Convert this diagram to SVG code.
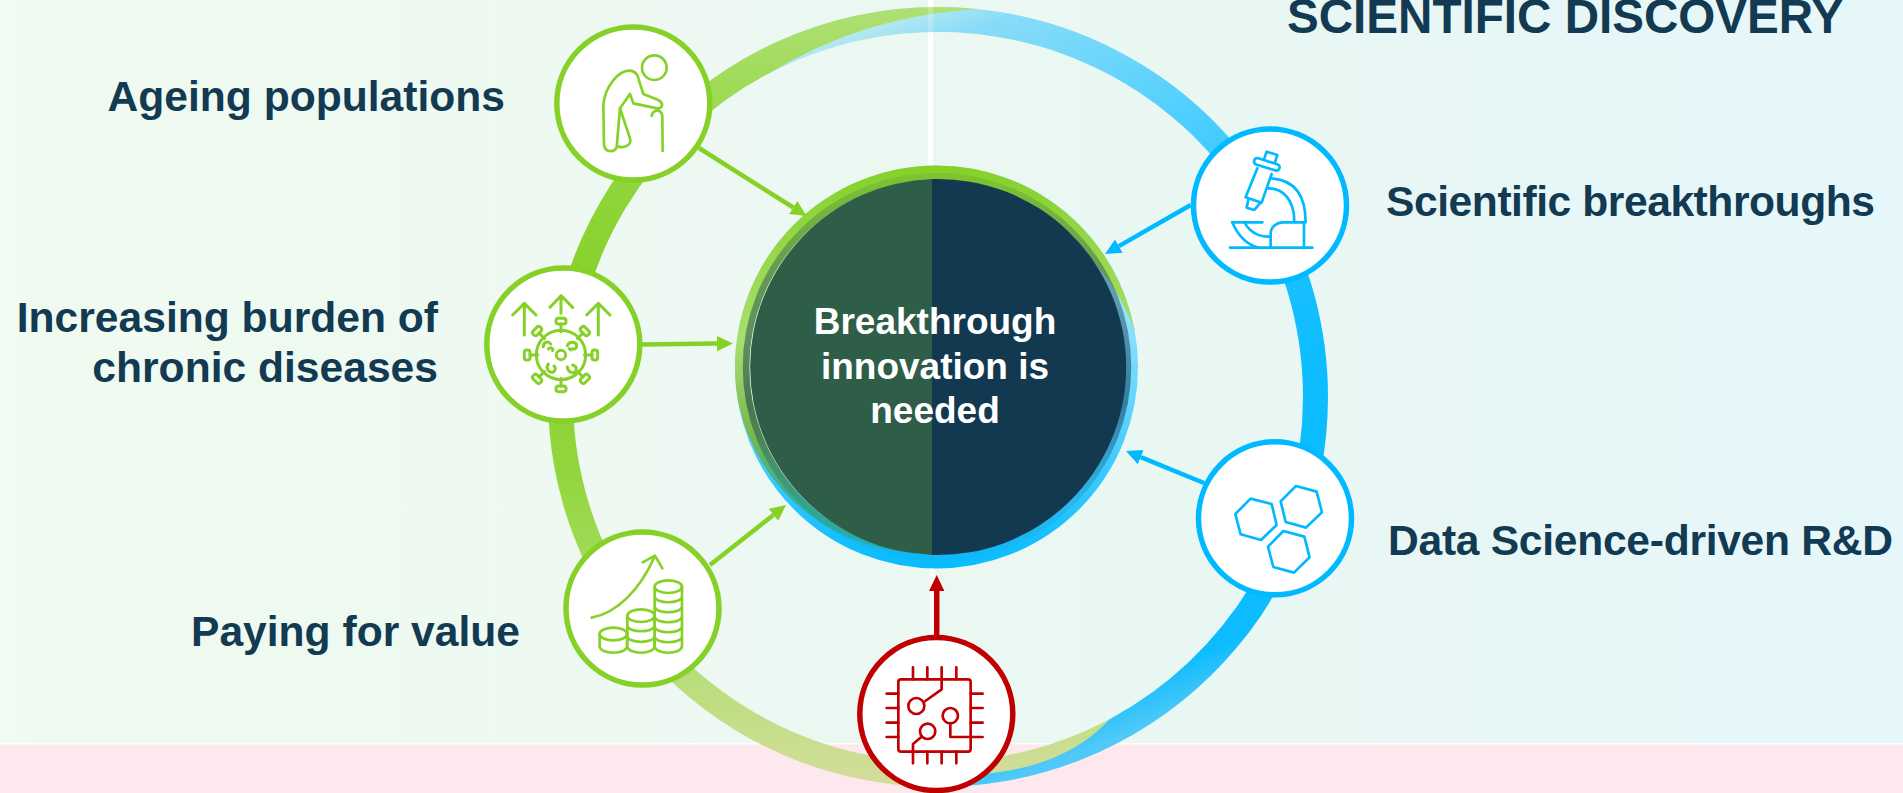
<svg xmlns="http://www.w3.org/2000/svg" width="1903" height="793" viewBox="0 0 1903 793">
<style>
.lbl{font-family:"Liberation Sans",Arial,sans-serif;font-weight:700;font-size:42.6px;fill:#123a52}
.ctr{font-family:"Liberation Sans",Arial,sans-serif;font-weight:700;font-size:37px;fill:#fff;text-anchor:middle}
.disc{fill:#fff;stroke-width:5.5}
.ico{fill:none;stroke-width:8;stroke-linecap:round;stroke-linejoin:round}
.g{stroke:#85d128}.b{stroke:#00b9ff}.r{stroke:#c00000}
.con{fill:none;stroke-width:4.5}
</style>
<defs>
<linearGradient id="bg" x1="0" x2="1" y1="0" y2="0"><stop offset="0" stop-color="#f3fcf2"/><stop offset="0.02" stop-color="#f0faf0"/><stop offset="0.5" stop-color="#ebf8f2"/><stop offset="0.7" stop-color="#e8f7f4"/><stop offset="1" stop-color="#e6f7fb"/></linearGradient>
<linearGradient id="bigB" gradientUnits="userSpaceOnUse" x1="800" y1="0" x2="1100" y2="790"><stop offset="0" stop-color="#c0eaee"/><stop offset="0.06" stop-color="#b5e8f0"/><stop offset="0.106" stop-color="#88dcf7"/><stop offset="0.29" stop-color="#4fcfff"/><stop offset="0.5" stop-color="#18c0ff"/><stop offset="0.65" stop-color="#0cbcff"/><stop offset="0.89" stop-color="#0cbcff"/><stop offset="0.95" stop-color="#50c9f8"/></linearGradient>
<linearGradient id="bigG" gradientUnits="userSpaceOnUse" x1="0" y1="7" x2="0" y2="790"><stop offset="0" stop-color="#aee074"/><stop offset="0.18" stop-color="#93d742"/><stop offset="0.37" stop-color="#85d128"/><stop offset="0.6" stop-color="#93d63f"/><stop offset="0.8" stop-color="#acdf6c"/><stop offset="1" stop-color="#d5dd9e"/></linearGradient>
<linearGradient id="smB" gradientUnits="userSpaceOnUse" x1="0" y1="300" x2="0" y2="568"><stop offset="0" stop-color="#9ce4fb"/><stop offset="0.5" stop-color="#4fd0ff"/><stop offset="1" stop-color="#08bbff"/></linearGradient>
<linearGradient id="smG" gradientUnits="userSpaceOnUse" x1="0" y1="166" x2="0" y2="555"><stop offset="0" stop-color="#85d128"/><stop offset="0.45" stop-color="#a8df6e"/><stop offset="0.68" stop-color="#7cb850"/><stop offset="0.83" stop-color="#3fae88"/><stop offset="1" stop-color="#22b5b8"/></linearGradient>
<linearGradient id="shade" gradientUnits="userSpaceOnUse" x1="0" y1="173" x2="0" y2="561"><stop offset="0" stop-color="#123950" stop-opacity="0.08"/><stop offset="0.25" stop-color="#123950" stop-opacity="0.4"/><stop offset="0.6" stop-color="#123950" stop-opacity="0.55"/><stop offset="0.85" stop-color="#123950" stop-opacity="0.1"/><stop offset="1" stop-color="#123950" stop-opacity="0.03"/></linearGradient>
<marker id="hG" markerUnits="userSpaceOnUse" markerWidth="16" markerHeight="16" refX="0" refY="8" orient="auto"><path d="M0,0.3 L16,8 L0,15.7 Z" fill="#85d128"/></marker>
<marker id="hB" markerUnits="userSpaceOnUse" markerWidth="16" markerHeight="16" refX="0" refY="8" orient="auto"><path d="M0,0.3 L16,8 L0,15.7 Z" fill="#00b9ff"/></marker>
<marker id="hR" markerUnits="userSpaceOnUse" markerWidth="16" markerHeight="16" refX="0" refY="8" orient="auto"><path d="M0,0.3 L16,8 L0,15.7 Z" fill="#c00000"/></marker>
<g id="spike"><path d="M243,195V172"/><rect x="228" y="155" width="30" height="17" rx="7"/></g>
</defs>

<g id="background">
<rect x="0" y="0" width="1903" height="793" fill="url(#bg)"/>
<rect x="0" y="744" width="1903" height="49" fill="#fde8ed"/>
<rect x="0" y="743" width="1903" height="1.5" fill="#fff" opacity="0.8"/>
<rect x="928" y="0" width="5" height="170" fill="#fff"/>
<rect x="930" y="565" width="5" height="75" fill="#fff"/>
</g>

<g id="outer-ring">
<path d="M760,50 A390 390 0 0 1 1328,397 A390 390 0 0 1 930,786.9 L1040,760 L1110,718.9 A365 365 0 0 0 1303,397 A365 365 0 0 0 767,74.5 Z" fill="url(#bigB)"/>
<path d="M977,9 A390 390 0 0 0 548,397 A390 390 0 0 0 905,785.6 L1000,772 Q1070,762 1110,718.9 A365 365 0 0 1 573,397 A365 365 0 0 1 767,74.5 A450 450 0 0 1 977,9 Z" fill="url(#bigG)"/>
<rect x="928" y="7" width="5" height="26" fill="#fff" opacity="0.22"/>
</g>

<g id="center">
<circle cx="936.5" cy="367" r="194.5" fill="none" stroke="url(#smB)" stroke-width="14"/>
<path d="M1135,332.4 A201.5 201.5 0 0 0 936.5,165.5 A201.5 201.5 0 0 0 738,401.6 A190 190 0 0 0 932,553 L936.5,554 A187 187 0 0 1 749.5,367 A187 187 0 0 1 936.5,180 A187 187 0 0 1 1083,250.8 A210 210 0 0 1 1135,332.4 Z" fill="url(#smG)"/>
<circle cx="937" cy="367" r="191" fill="none" stroke="url(#shade)" stroke-width="6.5"/>
<path d="M932,179.1 A188 188 0 0 0 932,554.9 Z" fill="#2e5e47"/>
<path d="M932,179.1 A188 188 0 1 1 932,554.9 Z" fill="#123950"/>
<text class="ctr" x="935" y="334">Breakthrough</text>
<text class="ctr" x="935" y="379">innovation is</text>
<text class="ctr" x="935" y="423">needed</text>
</g>

<g id="connectors">
<path class="con g" d="M699,148 L793.2,207.5" marker-end="url(#hG)"/>
<path class="con g" d="M642,344.6 L717,343.6" marker-end="url(#hG)"/>
<path class="con g" d="M710,565 L773.4,514.9" marker-end="url(#hG)"/>
<path class="con b" d="M1190.7,205 L1118.9,246.1" marker-end="url(#hB)"/>
<path class="con b" d="M1204,483 L1140.8,457.1" marker-end="url(#hB)"/>
<path class="con r" style="stroke-width:5.5" d="M936.7,636 L936.7,591" marker-end="url(#hR)"/>
</g>

<g id="node-ageing">
<circle class="disc g" cx="633.3" cy="103.5" r="76.5"/>
<g class="ico g" transform="translate(550 20) scale(0.3333)">
<circle cx="313" cy="143" r="37"/>
<path d="M160,255 C165,200 205,150 240,152 C258,154 264,165 268,185 L280,222 L325,240 C340,248 340,262 325,266 L250,250 L240,222 L210,265 L240,355 C245,375 225,385 205,380"/>
<path d="M210,265 L200,382 C192,398 165,398 162,375 L160,255"/>
<path d="M305,288 C307,275 318,270 326,272 C335,275 337,282 337,292 L338,393"/>
</g>
<text class="lbl" x="505" y="111" text-anchor="end">Ageing populations</text>
</g>

<g id="node-chronic">
<circle class="disc g" cx="563.3" cy="344.5" r="76.5"/>
<g class="ico g" style="stroke-width:9" transform="translate(480 265) scale(0.3333)">
<path d="M133,210V115M98,150L133,115L168,150"/>
<path d="M243,145V92M210,127L243,92L278,127"/>
<path d="M355,210V115M320,150L355,115L390,150"/>
<g transform="translate(0 5)">
<circle cx="243" cy="265" r="74"/>
<circle cx="243" cy="265" r="14"/>
<use href="#spike"/>
<use href="#spike" transform="rotate(45 243 265)"/>
<use href="#spike" transform="rotate(90 243 265)"/>
<use href="#spike" transform="rotate(135 243 265)"/>
<use href="#spike" transform="rotate(180 243 265)"/>
<use href="#spike" transform="rotate(225 243 265)"/>
<use href="#spike" transform="rotate(270 243 265)"/>
<use href="#spike" transform="rotate(315 243 265)"/>
<path d="M190,240 C190,225 205,222 212,232 M205,247 C212,240 220,245 218,252"/>
<path d="M262,237 C268,222 290,225 290,238 C290,245 282,250 278,246 M268,246 L272,250"/>
<path d="M205,292 C195,305 208,322 222,315 M222,298 C228,303 226,310 222,315"/>
<path d="M262,300 C262,315 280,325 288,312 M278,295 C288,298 290,305 288,312"/>
</g>
</g>
<text class="lbl" x="438" y="332" text-anchor="end">Increasing burden of</text>
<text class="lbl" x="438" y="382" text-anchor="end">chronic diseases</text>
</g>

<g id="node-value">
<circle class="disc g" cx="642.5" cy="608.5" r="76.5"/>
<g class="ico g" transform="translate(560 525) scale(0.3333)">
<path d="M95,278 C170,265 240,195 285,92M248,112L285,92L307,130"/>
<ellipse cx="160" cy="327" rx="41" ry="19"/>
<path d="M119,327V363C119,390 201,390 201,363V327"/>
<ellipse cx="243" cy="272" rx="41" ry="19"/>
<path d="M202,272V363C202,390 284,390 284,363V272M202,300C202,325 284,325 284,300M202,332C202,357 284,357 284,332"/>
<ellipse cx="325" cy="185" rx="41" ry="19"/>
<path d="M284,185V363C284,390 366,390 366,363V185M284,213C284,238 366,238 366,213M284,243C284,268 366,268 366,243M284,273C284,298 366,298 366,273M284,303C284,328 366,328 366,303M284,333C284,358 366,358 366,333"/>
</g>
<text class="lbl" x="520" y="646" text-anchor="end">Paying for value</text>
</g>

<g id="node-science">
<circle class="disc b" cx="1270" cy="205.5" r="76.5"/>
<g class="ico b" transform="translate(1000 100) scale(0.3333)">
<path d="M690,443H937"/>
<path d="M697,367H787"/>
<path d="M697,367C715,410 745,435 775,443"/>
<path d="M735,370C750,395 775,410 808,410"/>
<path d="M812,443V402C812,380 830,367 850,367H912V443"/>
<path d="M815,235C880,240 917,280 917,367"/>
<path d="M805,265C850,265 883,300 883,365"/>
<path d="M772,205L737,292L785,308L815,222"/>
<path d="M745,300L740,323L763,330L780,310"/>
<path d="M775,175L832,193C845,198 838,215 825,211L770,194C757,189 762,171 775,175Z"/>
<path d="M793,175L800,155L832,165L825,187"/>
</g>
<text class="lbl" x="1386" y="216" textLength="489">Scientific breakthroughs</text>
</g>

<g id="node-data">
<circle class="disc b" cx="1275" cy="518.3" r="76.5"/>
<g class="ico b" transform="translate(1000 400) scale(0.3333)">
<path d="M752,296L815,312L830,375L783,420L722,403L706,342Z"/>
<path d="M888,258L950,275L966,337L918,383L857,366L842,304Z"/>
<path d="M850,393L913,410L929,472L882,518L820,501L804,440Z"/>
</g>
<text class="lbl" x="1388" y="555" textLength="505">Data Science-driven R&amp;D</text>
</g>

<g id="node-chip">
<circle class="disc r" cx="936.3" cy="714" r="76.5"/>
<g class="ico r" transform="translate(840 620) scale(0.3333)">
<rect x="175" y="178" width="217" height="217" rx="8"/>
<path d="M219,142V178M262,142V178M305,142V178M349,142V178"/>
<path d="M219,395V430M262,395V430M305,395V430M349,395V430"/>
<path d="M140,221H175M140,264H175M140,308H175M140,351H175"/>
<path d="M392,221H428M392,264H428M392,308H428M392,351H428"/>
<path d="M305,178V208L256,243"/>
<circle cx="229" cy="258" r="24"/>
<circle cx="331" cy="287" r="23"/>
<path d="M331,310V351H392"/>
<circle cx="263" cy="334" r="23"/>
<path d="M245,350L219,372V395"/>
</g>
</g>

<g id="heading">
<text class="lbl" style="font-size:47.6px" x="1287" y="33">SCIENTIFIC DISCOVERY</text>
</g>
</svg>
